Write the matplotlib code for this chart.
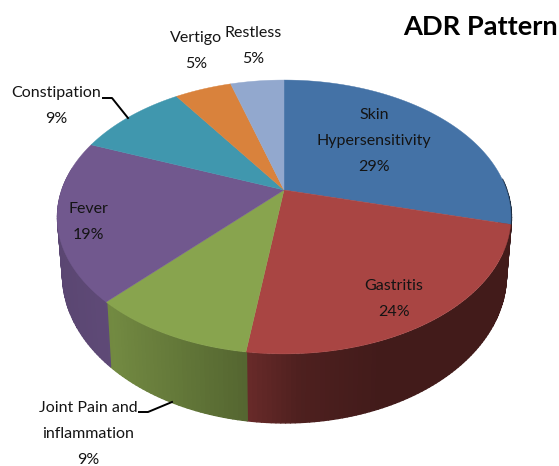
import numpy as np
import matplotlib
matplotlib.use("Agg")
import matplotlib.pyplot as plt
from matplotlib.collections import PolyCollection
from matplotlib.colors import to_rgb

# Data
categories = ["Skin\nHypersensitivity", "Gastritis", "Joint Pain and\ninflammation",
              "Fever", "Constipation", "Vertigo", "Restless"]
slice_sizes = [29, 23.2, 9.8, 19, 9.5, 4.9, 4.6]
percent_labels = [29, 24, 9, 19, 9, 5, 5]
title = "ADR Pattern"

# Style
colors = ["#4472A6", "#A94543", "#88A44E", "#71588E", "#4097AE", "#D9823C", "#92A8CE"]
label_centres = [(374, 141), (394, 299), (88, 434), (88, 222), (56, 106), (196, 51), (253, 46)]
W, H = 559, 466
plt.rcParams["font.family"] = ["Lato", "DejaVu Sans"]

# Perspective projection of the disc onto pixel coordinates
CX, CY, K, B, C_TOP, C_BOT, DEPTH = 284, 190, 0.197, -94.2, 222.5, 217.6, 55


def top_rim(theta):
    u, v = np.sin(theta), np.cos(theta)
    w = 1 + K * v
    return CX + C_TOP * u / w, (CY + B * v) / w


def bottom_rim(theta):
    u, v = np.sin(theta), np.cos(theta)
    w = 1 + K * v
    return CX + C_BOT * u / w, (CY + DEPTH + B * v) / w


def wall_shade(x):
    return np.interp(x, [57, 110, 245, 300, 380, 511], [0.80, 0.84, 0.62, 0.46, 0.39, 0.39])


fig = plt.figure(figsize=(W / 100, H / 100), dpi=100)
ax = fig.add_axes([0, 0, 1, 1])
ax.set_xlim(0, W)
ax.set_ylim(H, 0)
ax.axis("off")

fractions = np.asarray(slice_sizes, dtype=float) / np.sum(slice_sizes)
edges = np.concatenate([[0], np.cumsum(fractions)]) * 2 * np.pi

# Side wall, drawn as thin shaded strips
for i, color in enumerate(colors):
    a0, a1 = edges[i], edges[i + 1]
    lo, hi = max(a0, np.radians(85)), min(a1, np.radians(280))
    if hi <= lo:
        continue
    t = np.linspace(lo, hi, max(2, int(np.degrees(hi - lo))))
    rgb = np.array(to_rgb(color))
    for t0, t1 in zip(t[:-1], t[1:]):
        x0, y0 = top_rim(t0)
        x1, y1 = top_rim(t1)
        x2, y2 = bottom_rim(t1)
        x3, y3 = bottom_rim(t0)
        col = rgb * wall_shade((x0 + x1) / 2)
        ax.add_collection(PolyCollection([[(x0, y0), (x1, y1), (x2, y2), (x3, y3)]],
                                         facecolors=[col], edgecolors=[col],
                                         linewidths=1.0, zorder=1))

# Top face
for i, color in enumerate(colors):
    t = np.linspace(edges[i], edges[i + 1], 120)
    x, y = top_rim(t)
    ax.fill(np.r_[CX, x], np.r_[CY, y], color=color, lw=0.3, zorder=2)

# Leader lines
ax.plot([103, 112, 128], [98, 98, 118], color="black", lw=1.4, zorder=3)
ax.plot([139, 148, 172], [412, 412, 402], color="black", lw=1.4, zorder=3)

# Labels
for name, pct, (x, y) in zip(categories, percent_labels, label_centres):
    ax.text(x, y, f"{name}\n{pct}%", ha="center", va="center", fontsize=11.5,
            color="#141414", linespacing=2.05, zorder=4)

ax.text(403, 27, title, ha="left", va="center", fontsize=19.6, fontweight="bold",
        color="black", zorder=4)

fig.savefig("out.png", dpi=100, facecolor="white")
